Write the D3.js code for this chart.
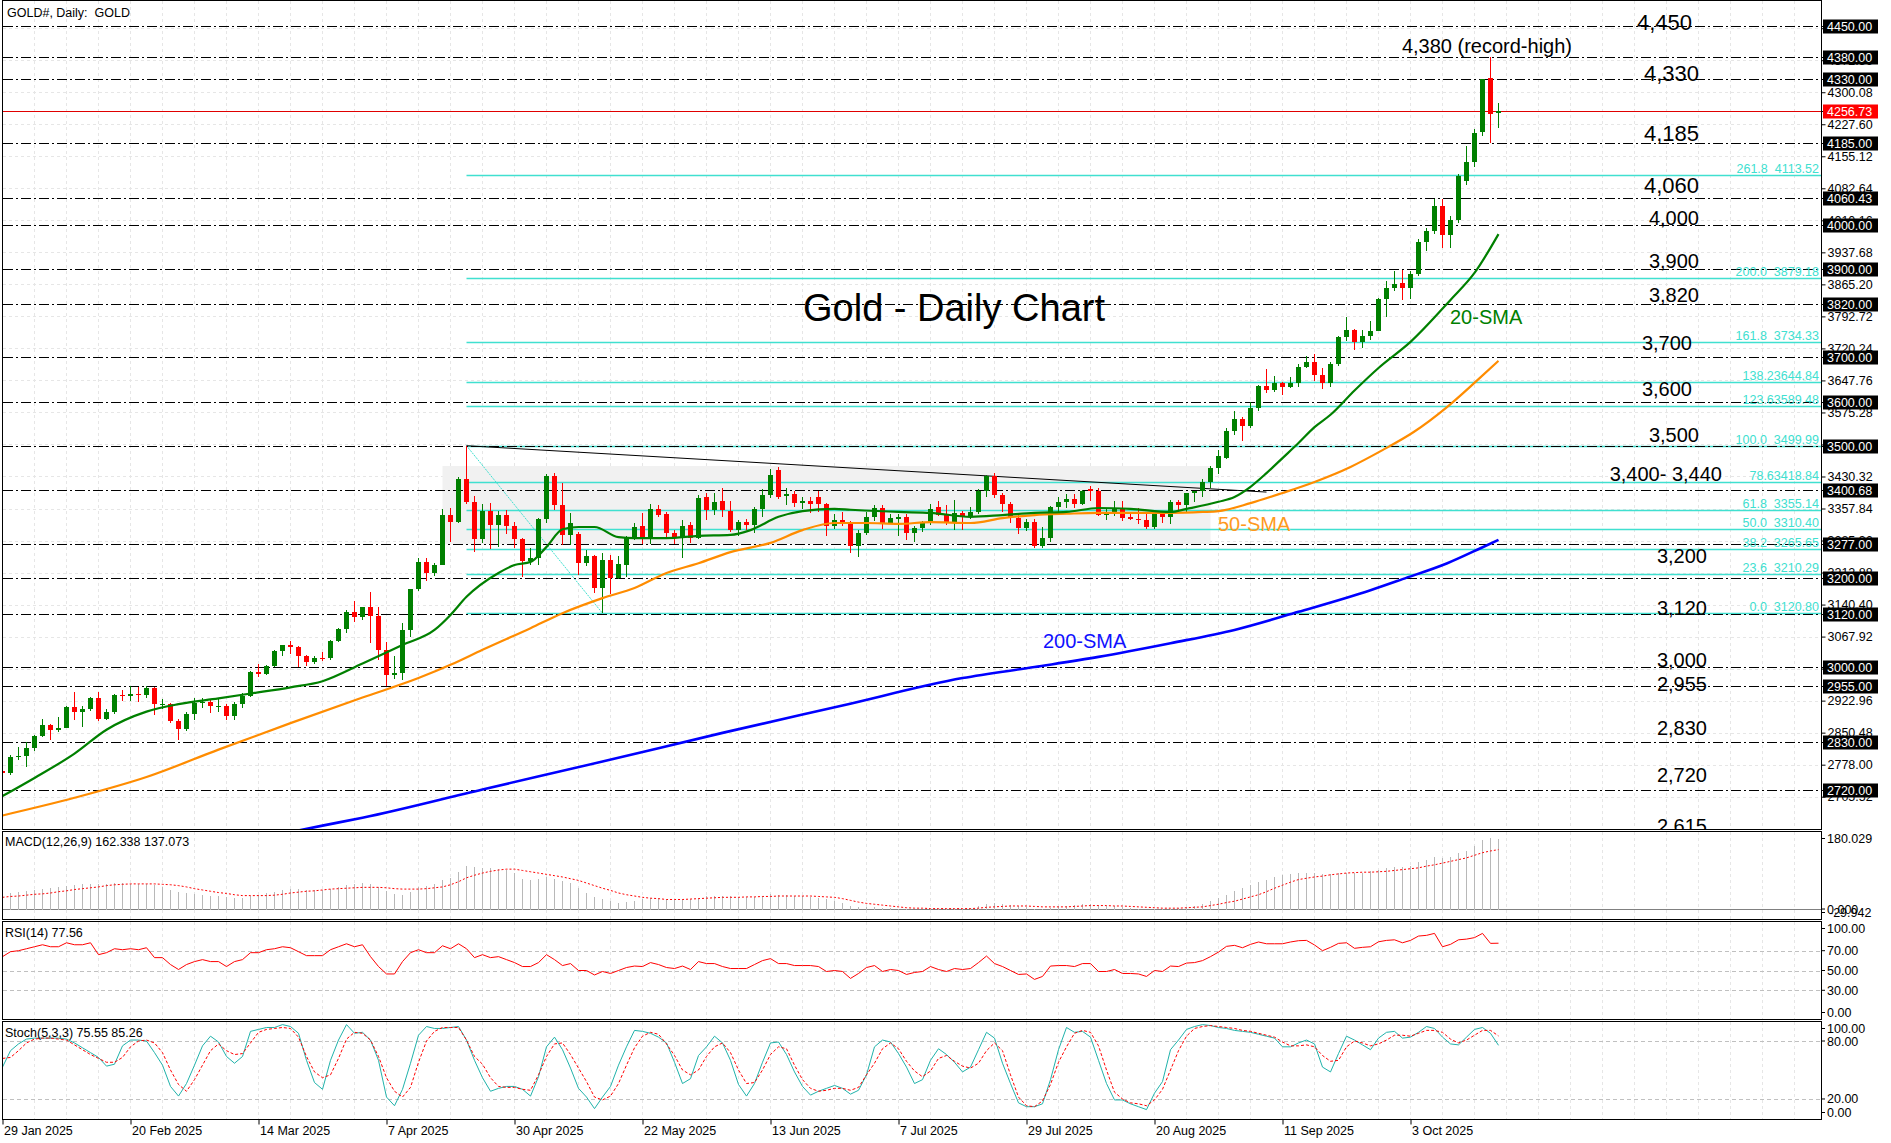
<!DOCTYPE html>
<html>
<head>
<meta charset="utf-8">
<script src="https://cdn.jsdelivr.net/npm/d3@7"></script>
<style>
  body { margin: 0; background: #fff; }
  svg { display: block; font-family: "Liberation Sans", Arial, sans-serif; }
  text { white-space: pre; }
</style>
</head>
<body>
<svg width="1891" height="1143"></svg>
<script>
// ---- daily bars, 29 Jan 2025 .. 20 Oct 2025 (one per trading day) ----
var opens = [
  2764,2760,2795,2798,2815,2842,2867,2856,2861,2908,
  2898,2904,2928,2882,2898,2935,2933,2939,2936,2952,
  2915,2916,2876,2858,2893,2918,2920,2910,2911,2889,
  2916,2934,2988,2984,3001,3035,3048,3044,3023,3011,
  3020,3019,3057,3085,3124,3113,3134,3114,3037,2982,
  2985,3083,3175,3237,3212,3230,3343,3327,3424,3372,
  3289,3353,3320,3344,3318,3289,3240,3246,3334,3431,
  3365,3298,3300,3235,3250,3178,3241,3200,3230,3291,
  3318,3293,3357,3345,3302,3291,3320,3291,3384,3355,
  3375,3352,3309,3327,3320,3357,3388,3446,3386,3391,
  3370,3375,3385,3368,3318,3332,3327,3274,3303,3339,
  3358,3326,3335,3338,3302,3313,3324,3362,3344,3324,
  3347,3339,3350,3397,3432,3388,3368,3337,3314,3327,
  3274,3290,3362,3373,3380,3369,3401,3397,3343,3348,
  3356,3338,3335,3332,3316,3348,3339,3373,3366,3394,
  3397,3418,3449,3473,3533,3560,3545,3586,3636,3626,
  3641,3634,3643,3679,3690,3659,3643,3685,3746,3763,
  3735,3749,3760,3833,3858,3868,3856,3888,3961,3986,
  4043,3977,4010,4100,4142,4210,4333,4252];
var highs = [
  2772,2800,2817,2830,2845,2882,2870,2886,2911,2942,
  2910,2932,2942,2905,2938,2947,2955,2954,2956,2953,
  2926,2918,2882,2897,2928,2930,2927,2930,2915,2920,
  2940,2990,3005,3004,3038,3050,3057,3047,3027,3025,
  3033,3060,3087,3128,3149,3136,3168,3136,3055,3024,
  3099,3176,3245,3246,3234,3357,3358,3430,3500,3386,
  3367,3371,3352,3354,3328,3290,3268,3337,3437,3438,
  3415,3348,3305,3265,3252,3257,3253,3250,3295,3325,
  3348,3368,3366,3350,3310,3332,3327,3388,3392,3392,
  3404,3375,3332,3335,3361,3402,3447,3452,3404,3398,
  3385,3385,3398,3370,3345,3350,3330,3310,3350,3365,
  3366,3345,3345,3346,3318,3330,3369,3375,3366,3377,
  3352,3361,3402,3434,3439,3394,3373,3345,3334,3334,
  3316,3363,3385,3391,3390,3400,3409,3405,3358,3375,
  3374,3345,3358,3345,3350,3351,3378,3376,3394,3398,
  3424,3453,3490,3539,3579,3564,3600,3638,3674,3658,
  3645,3656,3685,3703,3707,3677,3690,3749,3791,3765,
  3761,3782,3835,3872,3895,3897,3896,3969,3993,4059,
  4059,4020,4116,4179,4218,4330,4380,4276];
var lows = [
  2750,2755,2789,2772,2810,2840,2834,2853,2860,2880,
  2864,2900,2876,2880,2893,2922,2923,2920,2930,2890,
  2903,2872,2833,2855,2880,2907,2894,2898,2880,2880,
  2906,2932,2977,2982,2999,3025,3028,2999,3001,3005,
  3012,3015,3056,3076,3100,3105,3054,3015,2957,2972,
  2970,3068,3172,3193,3205,3229,3283,3325,3367,3260,
  3280,3266,3270,3300,3268,3202,3229,3230,3324,3355,
  3275,3275,3207,3227,3167,3121,3164,3198,3203,3287,
  3277,3277,3338,3293,3277,3246,3280,3288,3332,3343,
  3339,3305,3295,3310,3302,3339,3382,3380,3366,3362,
  3357,3347,3350,3295,3312,3318,3257,3247,3298,3330,
  3311,3322,3296,3287,3283,3305,3320,3340,3320,3310,
  3310,3333,3345,3383,3382,3351,3325,3301,3308,3268,
  3269,3281,3346,3358,3359,3365,3374,3340,3331,3342,
  3330,3332,3322,3311,3312,3324,3322,3351,3351,3373,
  3384,3405,3436,3470,3525,3511,3540,3578,3620,3621,
  3614,3630,3633,3675,3646,3628,3634,3680,3737,3717,
  3722,3740,3759,3792,3850,3830,3833,3884,3940,3980,
  3947,3947,4005,4090,4130,4200,4185,4219];
var closes = [
  2760,2795,2798,2815,2842,2867,2856,2861,2908,2898,
  2904,2928,2882,2898,2935,2933,2939,2936,2952,2915,
  2916,2876,2858,2893,2918,2920,2910,2911,2889,2916,
  2934,2988,2984,3001,3035,3048,3044,3023,3011,3020,
  3019,3057,3085,3124,3113,3134,3114,3037,2982,2985,
  3083,3175,3237,3212,3230,3343,3327,3424,3372,3289,
  3353,3320,3344,3318,3289,3240,3246,3334,3431,3365,
  3298,3325,3235,3250,3178,3241,3200,3232,3291,3316,
  3293,3357,3343,3302,3291,3318,3291,3382,3355,3373,
  3355,3309,3327,3320,3357,3388,3434,3384,3391,3370,
  3375,3368,3368,3318,3332,3327,3274,3303,3339,3358,
  3326,3337,3338,3302,3313,3324,3356,3344,3324,3347,
  3339,3350,3397,3432,3388,3368,3337,3314,3327,3274,
  3290,3362,3373,3380,3369,3397,3397,3343,3348,3356,
  3336,3335,3332,3316,3348,3339,3373,3366,3394,3397,
  3418,3449,3477,3533,3560,3545,3586,3636,3626,3641,
  3634,3643,3679,3690,3659,3643,3685,3746,3763,3735,
  3749,3760,3833,3858,3866,3856,3889,3961,3986,4043,
  3977,4011,4110,4142,4208,4329,4251,4257];

// moving averages: [bar, price]
var sma20 = [[0,2707],[4,2748],[9,2803],[13,2857],[18,2898],[22,2915],[27,2928],[31,2939],[36,2953],[40,2967],
  [45,3007],[50,3049],[54,3083],[56,3117],[58,3158],[62,3212],[64,3230],[66,3237],[68,3271],[70,3311],
  [72,3316],[74,3316],[77,3293],[79,3291],[83,3291],[87,3296],[91,3298],[93.5,3309],[97,3339],[100,3352],
  [104,3357],[106,3355],[112,3350],[116,3348],[121,3339],[125,3343],[129,3348],[133,3350],[137,3359],[141,3357],
  [146,3350],[148,3357],[152,3373],[154,3384],[156,3407],[158,3438],[160,3472],[162,3506],[164,3542],[166,3570],
  [169,3625],[172,3676],[176,3735],[181,3830],[184,3891],[187,3979]];
var sma50 = [[0,2663],[9,2703],[18,2750],[27,2812],[36,2872],[45,2930],[52,2974],[56,3004],[60,3038],[66,3087],
  [70,3121],[75,3155],[79,3178],[83,3212],[87,3234],[91,3259],[96,3280],[100,3309],[104,3325],[108,3325],
  [112,3323],[116,3327],[121,3325],[125,3336],[129,3343],[133,3346],[137,3348],[141,3348],[146,3348],[150,3350],
  [152,3352],[156,3370],[160,3393],[164,3418],[168.5,3452],[172.5,3490],[176.4,3531],[180.6,3588],[184.4,3649],[187,3692]];
var sma200 = [[34,2618],[40,2640],[45,2658],[60,2722],[75,2785],[90,2850],[105,2912],[120,2974],[129,2999],[137,3022],
  [146,3053],[154,3083],[162,3124],[171,3173],[175,3198],[180.6,3234],[184.75,3268],[187,3287]];

// MACD(12,26,9): main (histogram) and signal
var macd = [
  37,38,39,41,44,47,49,51,54,56, 57,58,58,58,59,59,58,58,57,55,
  51,45,39,37,35,33,31,29,27,26, 26,29,33,36,40,44,46,46,45,45,
  45,47,51,55,57,59,57,50,42,35, 33,40,50,54,57,66,72,85,100,97,
  95,94,92,90,84,70,68,70,73,70, 65,60,48,38,28,22,18,15,17,19,
  22,25,25,23,20,23,23,26,30,31, 31,29,27,27,28,31,35,33,33,31,
  30,28,26,22,19,14,8,5,4,4, 2,2,1,-1,-2,-2,0,0,0,1,
  1,2,6,12,13,12,10,7,5,1, -1,3,6,8,9,11,12,9,7,6,
  4,3,1,-2,-1,-1,1,2,5,8, 12,18,25,33,42,48,55,63,68,74,
  78,80,82,84,84,80,80,82,84,83, 84,87,91,95,98,98,100,108,114,120,
  117,121,130,135,145,160,164,162.34];
var macdSignal = [
  27,29,30,32,34,35,37,40,42,45, 47,49,51,54,56,57,58,58,58,58,
  57,56,54,51,47,44,41,38,36,33, 31,31,31,31,32,34,37,39,41,42,
  44,46,47,48,49,50,50,50,49,47, 46,46,46,47,49,51,56,63,72,78,
  83,87,90,92,92,89,86,83,80,77, 74,70,66,60,54,48,43,37,33,30,
  27,25,24,22,22,22,23,24,25,26, 27,27,27,28,28,29,29,30,30,30,
  30,30,29,28,27,24,20,16,13,11, 9,7,5,3,2,2,1,1,1,1,
  1,1,2,4,5,6,7,7,7,6, 5,5,5,5,6,7,8,8,8,7,
  7,6,5,4,3,2,2,2,3,4, 5,8,11,15,18,23,28,33,40,48,
  55,62,68,71,74,76,79,81,83,84, 85,85,86,87,89,91,93,95,99,102,
  106,110,114,118,124,130,134,137.07];

// RSI(14)
var rsi = [
  64,69,70,72,74,76,74,74,78,76, 76,78,66,68,72,71,72,71,73,63,
  63,56,51,56,59,61,59,59,54,59, 61,68,68,71,72,74,73,69,65,65,
  65,71,74,77,74,76,64,54,46.5,46.5, 59,68,71,68,68,75,72,77,72,63,
  66,63,64,61,58,54,54,58,66,61, 55,57,50,50,45.5,49,47,50,53,54.5,
  54,58,56,53,52,54.5,51,59,57,57, 54,52,52,52,56,60,62,57,57,55,
  55,55,54,49,50,49,42,47,53,55, 49,51,50,46,48,49,54,51,49,52,
  51,52,58,64.6,57,54,50,46,46.5,41, 44,54.5,55,55,54,57,57,49,49,51,
  47,47,46.5,44,50,49,54.5,54,57.5,58, 60,64,68.6,74.4,75.4,73,76.4,78.8,77,77,
  77,78.8,80.1,80.4,75.8,70,73.4,77.4,78,72.4, 73.4,74,79,80.4,81,78,80.4,84.8,85.5,87.5,
  74,76.4,81,81.7,83.2,87.5,77.4,77.56];

// Stochastic(5,3,3): %K main and %D signal
var stochK = [
  53,70,77,82,83,83,83,83,82,78, 73,68,63,54,56,75,81,81,80,68,
  55,33,23,36,55,75,85,79,64,57, 64,90,92,94,94,97,95,88,60,37,
  30,60,81,97,88,89,81,60,22,13, 30,57,86,95,93,93,94,95,81,60,
  42,28,31,33,33,30,23,43,74,84, 71,52,31,22,10,22,33,55,74,91,
  90,88,84,78,58,36,41,65,74,85, 78,60,35,23,36,58,78,79,66,48,
  33,24,28,31,34,31,25,29,45,74, 81,79,67,53,36,40,60,72,66,58,
  48,53,71,89,83,57,36,16,12,12, 15,40,71,94,89,90,84,60,36,19,
  19,15,12,9,26,38,71,81,92,95, 97,96,94,93,91,90,89,87,85,83,
  74,74,78,81,77,53,48,67,85,81, 76,71,83,89,90,83,84,89,95,93,
  84,77,76,84,92,94,88,75.55];
var stochD = [
  62,63,70,78,82,83,83,82,81,76, 71,66,62,58,58,63,74,80,81,78,
  68,50,35,28,40,55,70,77,70,66, 67,78,89,92,93,94,93,84,64,48,
  42,45,62,82,89,88,81,64,42,28, 22,32,58,80,90,94,94,94,81,64,
  56,42,33,32,32,30,29,45,64,77, 78,66,52,38,22,19,23,36,55,73,
  85,89,87,77,65,50,45,50,64,74, 78,68,50,36,37,50,66,74,72,55,
  40,31,28,29,31,31,29,32,45,57, 72,78,72,59,49,43,49,62,65,59,
  54,52,57,70,78,70,45,22,13,12, 18,35,58,74,88,91,89,75,50,27,
  20,16,15,13,19,30,50,70,85,93, 95,96,95,94,93,91,90,88,86,84,
  79,75,75,76,74,65,59,60,74,80, 78,75,77,81,86,86,85,88,91,91,
  89,82,78,81,86,91,91,85.26];

// time axis
var dateBars = [0,16,32,48,64,80,96,112,128,144,160,176];
var dateLabels = ["29 Jan 2025","20 Feb 2025","14 Mar 2025","7 Apr 2025","30 Apr 2025","22 May 2025",
  "13 Jun 2025","7 Jul 2025","29 Jul 2025","20 Aug 2025","11 Sep 2025","3 Oct 2025"];

// price axis ticks
var priceTicks = [4445.04,4372.56,4300.08,4227.60,4155.12,4082.64,4010.16,3937.68,3865.20,3792.72,3720.24,
  3647.76,3575.28,3502.80,3430.32,3357.84,3285.36,3212.88,3140.40,3067.92,2995.44,2922.96,2850.48,2778.00,2705.52];

// horizontal support / resistance levels
var keyLevels = [4450,4380,4330,4185,4060.43,4000,3900,3820,3700,3600,3500,3400.68,3277,3200,3120,3000,2955,2830,2720];
var lastPrice = 4256.73;

// fibonacci retracement (0 = 15 May low, 100 = 22 Apr high)
var fibPrices = [4113.52,3879.18,3734.33,3644.84,3589.48,3499.99,3418.84,3355.14,3310.40,3265.65,3210.29,3120.80];
var fibTexts = ["261.8  4113.52","200.0  3879.18","161.8  3734.33","138.23644.84","123.63589.48","100.0  3499.99",
  "78.63418.84","61.8  3355.14","50.0  3310.40","38.2  3265.65","23.6  3210.29","0.0  3120.80"];
var fibStartBar = 58;
var fibSwing = [[58,3499.99],[75,3120.80]];
var trendLine = [[58,3500],[158,3395]];
var zoneBars = [55,151], zonePrices = [3277,3454];

var svg = d3.select("svg");

var x = d3.scaleLinear().domain([0, 187]).range([2.5, 1498.5]),
    y = d3.scaleLinear().domain([2632.4, 4506.6]).range([829, 1]),
    yMacd = d3.scaleLinear().domain([-23, 180.029]).range([919, 831]),
    yRsi = d3.scaleLinear().domain([0, 100]).range([1020, 921]),
    ySto = d3.scaleLinear().domain([0, 100]).range([1118.3, 1021.7]);

var panels = [
  {top: 0.5, bottom: 829.5},
  {top: 831.5, bottom: 919.5},
  {top: 921.5, bottom: 1019.5},
  {top: 1021.5, bottom: 1119.5}
];
var rightEdge = 1821.5;

var defs = svg.append("defs");
panels.forEach(function(p, k) {
  defs.append("clipPath").attr("id", "clip" + k)
    .append("rect").attr("x", 2.5).attr("y", p.top)
    .attr("width", rightEdge - 2.5).attr("height", p.bottom - p.top);
});

function crisp(v) { return Math.round(v) + 0.5; }

// vertical grid, every 4 bars, in every panel
var gridBars = d3.range(4, 228, 4);
panels.forEach(function(p) {
  svg.append("g").selectAll("line").data(gridBars).enter().append("line")
    .attr("x1", function(d) { return x(d); }).attr("x2", function(d) { return x(d); })
    .attr("y1", p.top).attr("y2", p.bottom)
    .attr("stroke", "#e6e6e6").attr("stroke-dasharray", "3,3")
    .attr("shape-rendering", "crispEdges");
});

var gMain = svg.append("g").attr("clip-path", "url(#clip0)");

// horizontal grid at price ticks
gMain.append("g").selectAll("line").data(priceTicks).enter().append("line")
  .attr("x1", 2.5).attr("x2", rightEdge)
  .attr("y1", function(d) { return crisp(y(d)); }).attr("y2", function(d) { return crisp(y(d)); })
  .attr("stroke", "#e6e6e6").attr("stroke-dasharray", "3,3")
  .attr("shape-rendering", "crispEdges");

// consolidation box
gMain.append("rect")
  .attr("x", x(zoneBars[0])).attr("width", x(zoneBars[1]) - x(zoneBars[0]))
  .attr("y", y(zonePrices[1])).attr("height", y(zonePrices[0]) - y(zonePrices[1]))
  .attr("fill", "#f1f1f1");

// fibonacci levels
gMain.append("g").selectAll("line").data(fibPrices).enter().append("line")
  .attr("x1", x(fibStartBar)).attr("x2", rightEdge)
  .attr("y1", function(d) { return crisp(y(d)); }).attr("y2", function(d) { return crisp(y(d)); })
  .attr("stroke", "#40e0d0").attr("stroke-width", 1.3);

gMain.append("line")
  .attr("x1", x(fibSwing[0][0])).attr("y1", y(fibSwing[0][1]))
  .attr("x2", x(fibSwing[1][0])).attr("y2", y(fibSwing[1][1]))
  .attr("stroke", "#40e0d0").attr("stroke-width", 1).attr("stroke-dasharray", "2,1");

// dash-dot support/resistance lines
gMain.append("g").selectAll("line").data(keyLevels).enter().append("line")
  .attr("x1", 2.5).attr("x2", rightEdge)
  .attr("y1", function(d) { return crisp(y(d)); }).attr("y2", function(d) { return crisp(y(d)); })
  .attr("stroke", "#000").attr("stroke-dasharray", "10,3,2,3")
  .attr("shape-rendering", "crispEdges");

// falling trendline
gMain.append("line")
  .attr("x1", x(trendLine[0][0])).attr("y1", y(trendLine[0][1]))
  .attr("x2", x(trendLine[1][0])).attr("y2", y(trendLine[1][1]))
  .attr("stroke", "#000").attr("stroke-width", 1);

// current price
gMain.append("line")
  .attr("x1", 2.5).attr("x2", rightEdge)
  .attr("y1", crisp(y(lastPrice))).attr("y2", crisp(y(lastPrice)))
  .attr("stroke", "#e00000").attr("shape-rendering", "crispEdges");

// candles
var bars = d3.range(closes.length);
function candleColor(i) { return closes[i] >= opens[i] ? "#008000" : "#ff0000"; }
var candle = gMain.append("g").selectAll("g").data(bars).enter().append("g");
candle.append("line")
  .attr("x1", function(i) { return x(i); }).attr("x2", function(i) { return x(i); })
  .attr("y1", function(i) { return Math.round(y(highs[i])); })
  .attr("y2", function(i) { return Math.round(y(lows[i])); })
  .attr("stroke", candleColor).attr("shape-rendering", "crispEdges");
candle.append("rect")
  .attr("x", function(i) { return x(i) - 2.5; })
  .attr("width", 5)
  .attr("y", function(i) { return Math.round(y(Math.max(opens[i], closes[i]))); })
  .attr("height", function(i) {
    return Math.max(1, Math.round(y(Math.min(opens[i], closes[i]))) - Math.round(y(Math.max(opens[i], closes[i]))));
  })
  .attr("fill", candleColor).attr("shape-rendering", "crispEdges");

// moving averages
var maLine = d3.line()
  .x(function(d) { return x(d[0]); })
  .y(function(d) { return y(d[1]); })
  .curve(d3.curveMonotoneX);
[[sma200, "#0000ff", 2.6], [sma50, "#ff8c00", 2.2], [sma20, "#008000", 2.2]].forEach(function(m) {
  gMain.append("path").datum(m[0]).attr("d", maLine)
    .attr("fill", "none").attr("stroke", m[1]).attr("stroke-width", m[2]);
});

// fibonacci labels
gMain.append("g").selectAll("text").data(fibPrices).enter().append("text")
  .attr("x", 1819).attr("y", function(d) { return crisp(y(d)) - 3; })
  .attr("text-anchor", "end").attr("font-size", 12.5).attr("fill", "#40e0d0")
  .text(function(d, i) { return fibTexts[i]; });

// level annotations
var notes = [
  ["4,450", 1692, 30, 22], ["4,380 (record-high)", 1572, 53, 20], ["4,330", 1699, 81, 22],
  ["4,185", 1699, 141, 22], ["4,060", 1699, 193, 22], ["4,000", 1699, 225, 20],
  ["3,900", 1699, 268, 20], ["3,820", 1699, 302, 20], ["3,700", 1692, 350, 20],
  ["3,600", 1692, 396, 20], ["3,500", 1699, 442, 20], ["3,400- 3,440", 1722, 481, 20],
  ["3,200", 1707, 563, 20], ["3,120", 1707, 615, 20], ["3,000", 1707, 667, 20],
  ["2,955", 1707, 691, 20], ["2,830", 1707, 735, 20], ["2,720", 1707, 782, 20],
  ["2,615", 1707, 833, 20]
];
gMain.append("g").selectAll("text").data(notes).enter().append("text")
  .attr("x", function(d) { return d[1]; }).attr("y", function(d) { return d[2]; })
  .attr("text-anchor", "end").attr("font-size", function(d) { return d[3]; })
  .attr("fill", "#000").text(function(d) { return d[0]; });

gMain.append("text").attr("x", 1450).attr("y", 324).attr("font-size", 20).attr("fill", "#008000").text("20-SMA");
gMain.append("text").attr("x", 1218).attr("y", 531).attr("font-size", 20).attr("fill", "#ff9a1e").text("50-SMA");
gMain.append("text").attr("x", 1043).attr("y", 648).attr("font-size", 20).attr("fill", "#1010ff").text("200-SMA");
gMain.append("text").attr("x", 803).attr("y", 321).attr("font-size", 38).attr("fill", "#000").text("Gold - Daily Chart");

svg.append("text").attr("x", 7).attr("y", 17).attr("font-size", 12.5).text("GOLD#, Daily:  GOLD");

// right price axis
var axisY = svg.append("g").attr("transform", "translate(" + rightEdge + ",0)")
  .call(d3.axisRight(y).tickValues(priceTicks).tickSize(4).tickPadding(2).tickFormat(d3.format(".2f")));
axisY.select(".domain").remove();
axisY.attr("font-family", null).attr("font-size", 12.5);

// highlighted level boxes on the axis
var boxes = svg.append("g").selectAll("g").data(keyLevels.concat([lastPrice])).enter().append("g")
  .attr("transform", function(d) { return "translate(0," + crisp(y(d)) + ")"; });
boxes.append("line").attr("x1", rightEdge).attr("x2", 1825).attr("stroke", "#000");
boxes.append("rect").attr("x", 1823).attr("y", -7).attr("width", 55).attr("height", 14)
  .attr("fill", function(d) { return d === lastPrice ? "#ff0000" : "#000"; });
boxes.append("text").attr("x", 1827).attr("y", 0).attr("dy", "0.36em")
  .attr("font-size", 12.5).attr("fill", "#fff")
  .text(function(d) { return d3.format(".2f")(d); });

// ---- MACD panel ----
var gMacd = svg.append("g").attr("clip-path", "url(#clip1)");
gMacd.append("line").attr("x1", 2.5).attr("x2", rightEdge)
  .attr("y1", crisp(yMacd(0))).attr("y2", crisp(yMacd(0)))
  .attr("stroke", "#808080").attr("shape-rendering", "crispEdges");
gMacd.append("g").selectAll("line").data(bars).enter().append("line")
  .attr("x1", function(i) { return x(i); }).attr("x2", function(i) { return x(i); })
  .attr("y1", crisp(yMacd(0))).attr("y2", function(i) { return yMacd(macd[i]); })
  .attr("stroke", "#b8b8b8").attr("shape-rendering", "crispEdges");
gMacd.append("path").datum(bars)
  .attr("d", d3.line().x(function(i) { return x(i); }).y(function(i) { return yMacd(macdSignal[i]); }))
  .attr("fill", "none").attr("stroke", "#ff0000").attr("stroke-dasharray", "2,2");

// ---- RSI panel ----
var gRsi = svg.append("g").attr("clip-path", "url(#clip2)");
gRsi.append("g").selectAll("line").data([70, 50, 30]).enter().append("line")
  .attr("x1", 2.5).attr("x2", rightEdge)
  .attr("y1", function(d) { return crisp(yRsi(d)); }).attr("y2", function(d) { return crisp(yRsi(d)); })
  .attr("stroke", "#c0c0c0").attr("stroke-dasharray", "4,3").attr("shape-rendering", "crispEdges");
gRsi.append("path").datum(bars)
  .attr("d", d3.line().x(function(i) { return x(i); }).y(function(i) { return yRsi(rsi[i]); }))
  .attr("fill", "none").attr("stroke", "#ff0000").attr("stroke-width", 1);

// ---- Stochastic panel ----
var gSto = svg.append("g").attr("clip-path", "url(#clip3)");
gSto.append("g").selectAll("line").data([80, 20]).enter().append("line")
  .attr("x1", 2.5).attr("x2", rightEdge)
  .attr("y1", function(d) { return crisp(ySto(d)); }).attr("y2", function(d) { return crisp(ySto(d)); })
  .attr("stroke", "#c0c0c0").attr("stroke-dasharray", "4,3").attr("shape-rendering", "crispEdges");
gSto.append("path").datum(bars)
  .attr("d", d3.line().x(function(i) { return x(i); }).y(function(i) { return ySto(stochK[i]); }))
  .attr("fill", "none").attr("stroke", "#20b2aa").attr("stroke-width", 1);
gSto.append("path").datum(bars)
  .attr("d", d3.line().x(function(i) { return x(i); }).y(function(i) { return ySto(stochD[i]); }))
  .attr("fill", "none").attr("stroke", "#ff0000").attr("stroke-dasharray", "3,2");

// indicator titles
svg.append("text").attr("x", 5).attr("y", 846).attr("font-size", 12.5).text("MACD(12,26,9) 162.338 137.073");
svg.append("text").attr("x", 5).attr("y", 937).attr("font-size", 12.5).text("RSI(14) 77.56");
svg.append("text").attr("x", 5).attr("y", 1037).attr("font-size", 12.5).text("Stoch(5,3,3) 75.55 85.26");

// indicator scales on the right
var sideLabels = [
  [yMacd, 180.029, "180.029", 1827, 831.5, 919.5],
  [yMacd, 0, "0.000", 1827, 831.5, 919.5],
  [yMacd, -9, "-29.942", 1829, 831.5, 919.5],
  [yRsi, 100, "100.00", 1827, 921.5, 1019.5],
  [yRsi, 70, "70.00", 1827, 921.5, 1019.5],
  [yRsi, 50, "50.00", 1827, 921.5, 1019.5],
  [yRsi, 30, "30.00", 1827, 921.5, 1019.5],
  [yRsi, 0, "0.00", 1827, 921.5, 1019.5],
  [ySto, 100, "100.00", 1827, 1021.5, 1119.5],
  [ySto, 80, "80.00", 1827, 1021.5, 1119.5],
  [ySto, 20, "20.00", 1827, 1021.5, 1119.5],
  [ySto, 0, "0.00", 1827, 1021.5, 1119.5]
];
var side = svg.append("g").selectAll("g").data(sideLabels).enter().append("g")
  .attr("transform", function(d) {
    var yy = Math.max(d[4] + 7, Math.min(d[5] - 7, d[0](d[1])));
    return "translate(0," + yy + ")";
  });
side.append("line").attr("x1", rightEdge).attr("x2", 1825).attr("stroke", "#000");
side.append("text").attr("x", function(d) { return d[3]; }).attr("dy", "0.36em")
  .attr("font-size", 12.5).text(function(d) { return d[2]; });

// date axis
var axisX = svg.append("g").attr("transform", "translate(0,1119.5)")
  .call(d3.axisBottom(x).tickValues(dateBars).tickSize(5).tickPadding(2)
    .tickFormat(function(d, i) { return dateLabels[i]; }));
axisX.select(".domain").remove();
axisX.attr("font-family", null).attr("font-size", 12.5);
axisX.selectAll("text").attr("text-anchor", "start").attr("x", 1);

// panel frames
panels.forEach(function(p) {
  svg.append("rect").attr("x", 2.5).attr("y", p.top)
    .attr("width", rightEdge - 2.5).attr("height", p.bottom - p.top)
    .attr("fill", "none").attr("stroke", "#000").attr("shape-rendering", "crispEdges");
});
</script>
</body>
</html>
